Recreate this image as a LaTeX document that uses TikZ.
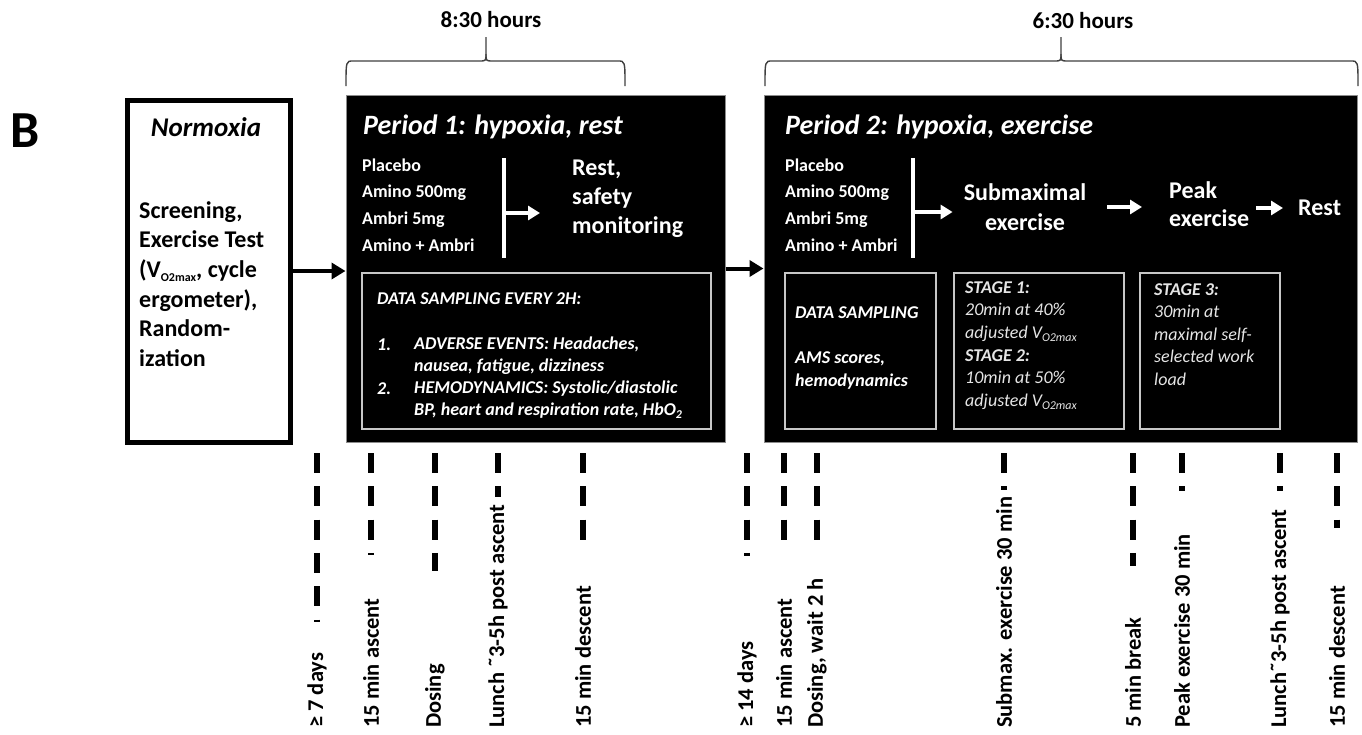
\documentclass[tikz,border=0pt]{standalone}
\usepackage{fontspec}
\setmainfont{Carlito}
\usetikzlibrary{arrows.meta, positioning}

\newcommand{\fsz}[2]{\fontsize{#1}{#2}\selectfont}
\newcommand{\lowtxt}[1]{\raisebox{-0.35ex}{\fontsize{12}{12}\selectfont #1}}

\tikzset{
  blackbox/.style={draw=black!45, line width=1pt, fill=black, anchor=north west, inner sep=0pt},
  innerbox/.style={draw=black!22, line width=1.5pt, anchor=north west, inner sep=0pt},
  whitetxt/.style={text=white, inner sep=0pt, align=left},
  whitearrow/.style={white, line width=4pt, -{Triangle[length=12pt, width=14pt]}},
  blackarrow/.style={black, line width=4pt, -{Triangle[length=14pt, width=16pt]}},
  timetick/.style={line width=5.5pt, dash pattern=on 20pt off 13.3pt},
  ticklabel/.style={rotate=90, anchor=west, inner sep=0pt, font=\fsz{22.5}{27}\bfseries},
  timebrace/.style={draw=black!75, line width=1.4pt},
}

\begin{document}
\begin{tikzpicture}[x=1pt, y=-1pt]
\useasboundingbox (0,0) rectangle (1362,734);
\fill[white] (0,0) rectangle (1362,734);

% durations on top
\foreach \bl/\bm/\br in {346/486/625, 765/1061/1358} {
  \draw[timebrace] (\bl,86) .. controls (\bl,61) .. (\bl+7,61) -- (\bm-7,61) .. controls (\bm,61) .. (\bm,54) -- (\bm,37);
  \draw[timebrace] (\bm,54) .. controls (\bm,61) .. (\bm+7,61) -- (\br-7,61) .. controls (\br,61) .. (\br,86);
}
\node[inner sep=0pt, font=\fsz{23}{23}\bfseries] (dur1) at (491,20) {8:30 hours};
\node[inner sep=0pt, font=\fsz{23}{23}\bfseries] (dur2) at (1083,21) {6:30 hours};

\node[inner sep=0pt, font=\fsz{52}{52}\bfseries] (panel) at (25,131) {B};

% normoxia
\node[draw, line width=5pt, anchor=north west, inner sep=0pt, minimum width=163pt, minimum height=342pt] (norm) at (124.5,97.5) {};
\node[inner sep=0pt, font=\fsz{27}{27}\bfseries\itshape] (normtitle) at (206,127) {Normoxia};
\node[inner sep=0pt, align=left, anchor=west, font=\fsz{24}{29.6}\bfseries] (normtxt) at (139,284)
  {Screening,\\Exercise Test\\(V\lowtxt{O2max}, cycle\\ergometer),\\Random-\\ization};

% period boxes
\node[blackbox, minimum width=379pt, minimum height=347pt] (per1) at (345.5,94.5) {};
\node[blackbox, minimum width=593pt, minimum height=347pt] (per2) at (763.5,94.5) {};
\draw[blackarrow] (norm.east) -- (per1.west |- norm.east);
\draw[blackarrow] (per1.east) -- (per2.west);

% period 1
\node[whitetxt, anchor=west, font=\fsz{28}{28}\bfseries\itshape] (p1title) at (363,127) {Period 1: hypoxia, rest};
\node[whitetxt, anchor=west, font=\fsz{18}{26.7}\bfseries] (drugs1) at (362,205) {Placebo\\Amino 500mg\\Ambri 5mg\\Amino + Ambri};
\coordinate (bar1top) at (504,158);
\coordinate (bar1bot) at (504,258);
\coordinate (bar1mid) at (504,213);
\draw[white, line width=3.5pt] (bar1top) -- (bar1bot);
\node[whitetxt, anchor=west, font=\fsz{24}{29}\bfseries] (rest1) at (572,199) {Rest,\\safety\\monitoring};
\draw[whitearrow, shorten >=32pt] (bar1mid) -- (bar1mid -| rest1.west);

\node[innerbox, minimum width=349pt, minimum height=156pt] (samp1) at (361,272) {};
\node[whitetxt, anchor=west, font=\fsz{18}{22}\bfseries\itshape] (samp1head) at (377,299) {DATA SAMPLING EVERY 2H:};
\node[whitetxt, anchor=west, font=\fsz{18}{22}\bfseries\itshape] (item1num) at (377,345) {1.};
\node[whitetxt, anchor=west, font=\fsz{18}{22}\bfseries\itshape] (item1) at (414,356) {ADVERSE EVENTS: Headaches,\\nausea, fatigue, dizziness};
\node[whitetxt, anchor=west, font=\fsz{18}{22}\bfseries\itshape] (item2num) at (377,389) {2.};
\node[whitetxt, anchor=west, font=\fsz{18}{22}\bfseries\itshape] (item2) at (414,400) {HEMODYNAMICS: Systolic/diastolic\\BP, heart and respiration rate, HbO\lowtxt{2}};

% period 2
\node[whitetxt, anchor=west, font=\fsz{28}{28}\bfseries\itshape] (p2title) at (785,127) {Period 2: hypoxia, exercise};
\node[whitetxt, anchor=west, font=\fsz{18}{26.7}\bfseries] (drugs2) at (785,205) {Placebo\\Amino 500mg\\Ambri 5mg\\Amino + Ambri};
\coordinate (bar2top) at (913,158);
\coordinate (bar2bot) at (913,258);
\coordinate (bar2mid) at (913,212);
\draw[white, line width=3.5pt] (bar2top) -- (bar2bot);
\node[whitetxt, align=center, font=\fsz{24}{30}\bfseries] (submax) at (1025,207) {Submaximal\\exercise};
\node[whitetxt, anchor=west, font=\fsz{24}{28}\bfseries] (peak) at (1169,204) {Peak\\exercise};
\node[whitetxt, anchor=west, font=\fsz{24}{28}\bfseries] (rest2) at (1298,208) {Rest};
\draw[whitearrow, shorten >=11pt] (bar2mid) -- (bar2mid -| submax.west);
\draw[whitearrow, shorten <=21pt, shorten >=27pt] (submax.east) -- (submax.east -| peak.west);
\draw[whitearrow, shorten <=7pt, shorten >=15pt] (peak.east |- rest2.west) -- (rest2.west);

\node[innerbox, minimum width=151pt, minimum height=156pt] (samp2) at (784,272) {};
\node[innerbox, minimum width=170pt, minimum height=156pt] (stage12) at (953,272) {};
\node[innerbox, minimum width=140pt, minimum height=156pt] (stage3) at (1139,272) {};
\node[whitetxt, anchor=west, font=\fsz{18}{22}\bfseries\itshape] (samp2head) at (795,313) {DATA SAMPLING};
\node[whitetxt, anchor=west, font=\fsz{18}{23}\bfseries\itshape] (samp2txt) at (795,370.5) {AMS scores,\\hemodynamics};
\node[whitetxt, anchor=west, text=black!10, font=\fsz{18}{22.6}\itshape] (stage12txt) at (965,345.5)
  {{\bfseries STAGE 1:}\\20min at 40\%\\adjusted V\lowtxt{O2max}\\{\bfseries STAGE 2:}\\10min at 50\%\\adjusted V\lowtxt{O2max}};
\node[whitetxt, anchor=west, text=black!10, font=\fsz{18}{22.6}\itshape] (stage3txt) at (1154,334.5)
  {{\bfseries STAGE 3:}\\30min at\\maximal self-\\selected work\\load};

% time line below
\foreach \tx/\tend/\tlabel [count=\i] in {317/622/{≥ 7 days}, 371/555/{15 min ascent}, 435/571/{Dosing},
    498/497/{Lunch ˜3-5h post ascent}, 583/540/{15 min descent}, 747/556/{≥ 14 days}, 784/540/{15 min ascent},
    817/540/{Dosing, wait 2 h}, 1004/490/{Submax. exercise 30 min}, 1133/566/{5 min break},
    1182/491/{Peak exercise 30 min}, 1280/491/{Lunch˜3-5h post ascent}, 1337/528/{15 min descent}} {
  \coordinate (tick\i) at (\tx,453);
  \node[ticklabel] (lbl\i) at (\tx,728) {\tlabel};
  \draw[timetick] (tick\i) -- (\tx,\tend);
}
\end{tikzpicture}
\end{document}
